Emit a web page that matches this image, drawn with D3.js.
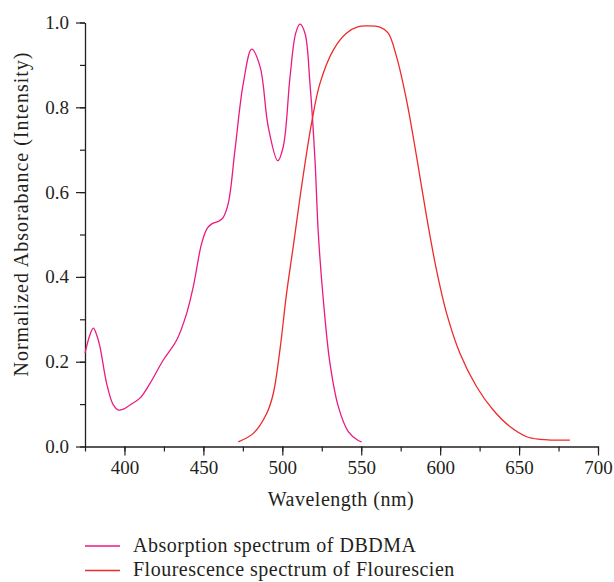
<!DOCTYPE html>
<html>
<head>
<meta charset="utf-8">
<script src="https://cdn.jsdelivr.net/npm/d3@7"></script>
<style>
  body { margin: 0; background: #fff; }
  text { font-family: "Liberation Serif", "DejaVu Serif", serif; fill: #231f20; }
</style>
</head>
<body>
<svg id="chart" width="614" height="582"></svg>
<script>
"use strict";

// absorption spectrum of DBDMA: [wavelength nm, normalized value]
var absorption = [
  [375, 0.22], [378, 0.262], [380.3, 0.279], [382.5, 0.262], [384.5, 0.235], [388.7, 0.149],
  [392.9, 0.098], [396.1, 0.086], [399.3, 0.088], [403.5, 0.098], [409.8, 0.114],
  [416.2, 0.149], [424.6, 0.204], [433.1, 0.251], [439.4, 0.314], [443.6, 0.377],
  [448.9, 0.479], [452.5, 0.515], [455.3, 0.525], [460, 0.532], [462.5, 0.540],
  [465.8, 0.574], [470.0, 0.699], [475.3, 0.857], [480.6, 0.937], [485.9, 0.896],
  [491.1, 0.754], [497.1, 0.674], [500.6, 0.707], [504.9, 0.872], [508.5, 0.975],
  [511.2, 0.996], [514.4, 0.974], [517.5, 0.857], [520.7, 0.676], [522.8, 0.503],
  [526, 0.345], [530.2, 0.196], [535.5, 0.094], [541.8, 0.035], [548.1, 0.014], [550.3, 0.011]
];

// fluorescence spectrum of Flourescien
var fluorescence = [
  [472.1, 0.011], [481.6, 0.031], [490.1, 0.078], [494.3, 0.125], [498.5, 0.228],
  [502.7, 0.361], [506.9, 0.471], [512.2, 0.613], [518.5, 0.762], [523.9, 0.857],
  [532.3, 0.935], [540.8, 0.975], [548.1, 0.990], [553.4, 0.992], [561.9, 0.989],
  [567.1, 0.975], [572.4, 0.919], [578.7, 0.817], [585.1, 0.683], [591.4, 0.542],
  [597.7, 0.416], [604.1, 0.314], [612.5, 0.220], [623.1, 0.141], [633.6, 0.086],
  [644.2, 0.047], [654.8, 0.023], [663.2, 0.017], [682.2, 0.015]
];

var xTicks = [400, 450, 500, 550, 600, 650, 700];
var yTicks = [0.0, 0.2, 0.4, 0.6, 0.8, 1.0];
var seriesNames = ["Absorption spectrum of DBDMA", "Flourescence spectrum of Flourescien"];
var seriesColors = ["#ea1a80", "#ee2a2a"];

var svg = d3.select("#chart");

var x = d3.scaleLinear().domain([375, 700]).range([85, 598]);
var y = d3.scaleLinear().domain([0, 1]).range([446.5, 22.5]);

var g = svg.append("g");

// minor ticks
g.append("g")
  .attr("transform", "translate(0," + y(0) + ")")
  .call(d3.axisBottom(x).tickValues(d3.range(375, 701, 25)).tickSize(5).tickFormat(""))
  .call(function(a) { a.select(".domain").remove(); });
g.append("g")
  .attr("transform", "translate(" + x(375) + ",0)")
  .call(d3.axisLeft(y).tickValues(d3.range(0, 1.01, 0.1)).tickSize(5).tickFormat(""))
  .call(function(a) { a.select(".domain").remove(); });

g.append("g")
  .attr("transform", "translate(0," + y(0) + ")")
  .call(d3.axisBottom(x).tickValues(xTicks).tickSize(9).tickSizeOuter(0).tickPadding(5).tickFormat(d3.format("d")));
g.append("g")
  .attr("transform", "translate(" + x(375) + ",0)")
  .call(d3.axisLeft(y).tickValues(yTicks).tickSize(9).tickSizeOuter(0).tickPadding(7).tickFormat(d3.format(".1f")));

g.selectAll(".tick line").attr("stroke", "#231f20").attr("stroke-width", 1.2);
g.selectAll(".domain").attr("stroke", "#231f20").attr("stroke-width", 1.3);
g.selectAll(".tick text").attr("font-size", "19px").attr("fill", "#231f20")
  .attr("font-family", "Liberation Serif, serif");

svg.append("text")
  .attr("x", 341).attr("y", 506)
  .attr("text-anchor", "middle")
  .attr("font-size", "20px")
  .attr("letter-spacing", "0.5px")
  .text("Wavelength (nm)");

svg.append("text")
  .attr("transform", "translate(28,214) rotate(-90)")
  .attr("text-anchor", "middle")
  .attr("font-size", "20px")
  .attr("letter-spacing", "1px")
  .text("Normalized Absorabance (Intensity)");

var line = d3.line()
  .x(function(d) { return x(d[0]); })
  .y(function(d) { return y(d[1]); })
  .curve(d3.curveCatmullRom.alpha(0.5));

[absorption, fluorescence].forEach(function(s, i) {
  g.append("path")
    .datum(s)
    .attr("fill", "none")
    .attr("stroke", seriesColors[i])
    .attr("stroke-width", 1.3)
    .attr("d", line);
});

var legend = svg.append("g");
seriesNames.forEach(function(name, i) {
  var ly = 546 + i * 24.5;
  legend.append("line")
    .attr("x1", 85).attr("x2", 120)
    .attr("y1", ly).attr("y2", ly)
    .attr("stroke", seriesColors[i]).attr("stroke-width", 1.3);
  legend.append("text")
    .attr("x", 133).attr("y", ly + 5.5)
    .attr("font-size", "20px")
    .attr("letter-spacing", "0.5px")
    .text(name);
});
</script>
</body>
</html>
